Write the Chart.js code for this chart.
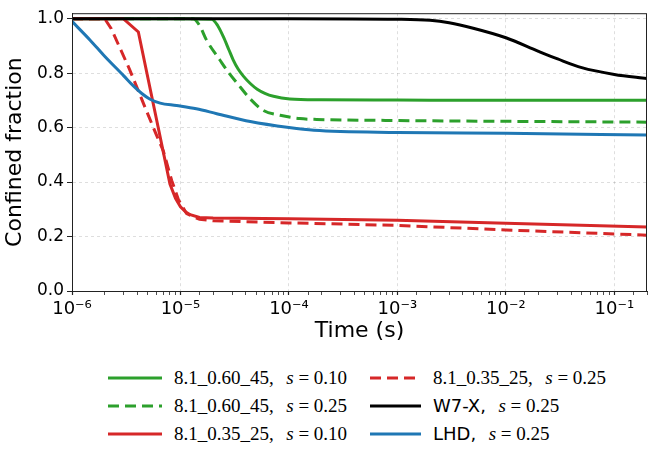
<!DOCTYPE html>
<html>
<head>
<meta charset="utf-8">
<script src="https://cdn.jsdelivr.net/npm/chart.js@4.4.1/dist/chart.umd.min.js"></script>
<style>
  html, body { margin: 0; padding: 0; background: #fff; }
  #wrap { position: relative; width: 654px; height: 450px; }
  #chart { position: absolute; left: 0; top: 0; }
  .item { position: absolute; height: 24px; display: flex; align-items: center; white-space: nowrap; }
  .item svg { flex: none; }
  .lab { font-family: "Liberation Serif", serif; font-size: 19px; color: #000; margin-left: 12px; }
  .sans { font-family: "DejaVu Sans", sans-serif; font-size: 18px; }
  .lab i { font-style: italic; margin-left: 3px; }
</style>
</head>
<body>
<div id="wrap">
  <canvas id="chart" width="654" height="345"></canvas>
  <div id="legend"></div>
</div>
<script>
(function () {
  'use strict'

  // time points (s) and confined fraction for each run
  const greenSolidT = [1e-6, 1e-5, 1.94e-5, 2.2e-5, 2.49e-5, 2.8e-5, 3.06e-5, 3.4e-5, 3.8e-5, 4.4e-5, 5.1e-5, 6e-5, 7.2e-5, 1.02e-4, 2e-4, 1e-3, 1e-2, 0.2];
  const greenSolidY = [1.0, 1.0, 0.998, 0.975, 0.933, 0.885, 0.849, 0.815, 0.789, 0.762, 0.741, 0.726, 0.715, 0.705, 0.702, 0.701, 0.70, 0.70];

  const greenDashT = [1e-6, 1.31e-5, 1.5e-5, 1.74e-5, 2.3e-5, 2.8e-5, 3.3e-5, 4.4e-5, 5.8e-5, 8.3e-5, 1.26e-4, 1.8e-4, 1e-3, 1e-2, 0.2];
  const greenDashY = [1.0, 1.0, 0.975, 0.921, 0.849, 0.8, 0.765, 0.705, 0.663, 0.645, 0.633, 0.63, 0.626, 0.623, 0.62];

  const redSolidT = [1e-6, 2.97e-6, 4.09e-6, 8.0e-6, 9e-6, 1.0e-5, 1.12e-5, 1.23e-5, 1.5e-5, 2e-5, 1e-4, 1e-3, 1e-2, 0.2];
  const redSolidY = [1.0, 1.0, 0.951, 0.393, 0.34, 0.309, 0.29, 0.28, 0.27, 0.268, 0.265, 0.26, 0.249, 0.235];

  const redDashT = [1e-6, 2.0e-6, 2.3e-6, 3.4e-6, 4.9e-6, 6.0e-6, 6.95e-6, 8.3e-6, 9.6e-6, 1.14e-5, 1.5e-5, 2e-5, 1e-4, 1e-3, 1e-2, 0.2];
  const redDashY = [1.0, 1.0, 0.963, 0.813, 0.658, 0.573, 0.514, 0.406, 0.334, 0.284, 0.263, 0.258, 0.25, 0.241, 0.224, 0.205];

  const w7xT = [1e-6, 1e-4, 1e-3, 2e-3, 3e-3, 5e-3, 1e-2, 2e-2, 3e-2, 5e-2, 1e-1, 0.2];
  const w7xY = [1.0, 1.0, 0.998, 0.994, 0.985, 0.965, 0.93, 0.88, 0.852, 0.82, 0.795, 0.78];

  const lhdT = [1e-6, 1.47e-6, 2e-6, 3e-6, 3.68e-6, 4.4e-6, 5.2e-6, 6.5e-6, 9.2e-6, 1.4e-5, 2.16e-5, 4.4e-5, 1e-4, 1.7e-4, 1e-3, 1e-2, 0.2];
  const lhdY = [0.99, 0.921, 0.862, 0.79, 0.753, 0.725, 0.705, 0.69, 0.681, 0.669, 0.651, 0.622, 0.6, 0.59, 0.582, 0.579, 0.573];

  const yTicks = [0, 0.2, 0.4, 0.6, 0.8, 1.0];

  const GREEN = '#2ca02c', RED = '#d62728', BLACK = '#000000', BLUE = '#1f77b4';
  const DASH = [11, 6];

  function pts(t, y) {
    return t.map(function (v, i) { return { x: v, y: y[i] } });
  }

  const series = [
    { label: '8.1_0.60_45, s = 0.10', t: greenSolidT, y: greenSolidY, color: GREEN, dash: [], order: 6, smooth: true, sans: false, name: '8.1_0.60_45,', s: '0.10' },
    { label: '8.1_0.60_45, s = 0.25', t: greenDashT, y: greenDashY, color: GREEN, dash: DASH, order: 5, smooth: true, sans: false, name: '8.1_0.60_45,', s: '0.25' },
    { label: '8.1_0.35_25, s = 0.10', t: redSolidT, y: redSolidY, color: RED, dash: [], order: 4, smooth: false, sans: false, name: '8.1_0.35_25,', s: '0.10' },
    { label: '8.1_0.35_25, s = 0.25', t: redDashT, y: redDashY, color: RED, dash: DASH, order: 3, smooth: false, sans: false, name: '8.1_0.35_25,', s: '0.25' },
    { label: 'W7-X, s = 0.25', t: w7xT, y: w7xY, color: BLACK, dash: [], order: 2, smooth: true, sans: true, name: 'W7-X,', s: '0.25' },
    { label: 'LHD, s = 0.25', t: lhdT, y: lhdY, color: BLUE, dash: [], order: 1, smooth: true, sans: true, name: 'LHD,', s: '0.25' }
  ];

  const SUP = { '-': '\u207B', '0': '\u2070', '1': '\u00B9', '2': '\u00B2', '3': '\u00B3', '4': '\u2074', '5': '\u2075', '6': '\u2076', '7': '\u2077', '8': '\u2078', '9': '\u2079' };
  function isDecade(v) {
    const l = Math.log10(v);
    return Math.abs(l - Math.round(l)) < 1e-6;
  }

  // full box round the plot, like matplotlib spines
  const frame = {
    id: 'frame',
    afterDatasetsDraw(chart) {
      const a = chart.chartArea, c = chart.ctx;
      c.save();
      c.strokeStyle = '#222';
      c.lineWidth = 1;
      c.strokeRect(a.left + 0.5, a.top + 0.5, a.right - a.left - 1, a.bottom - a.top);
      c.restore();
    }
  };

  const ctx = document.getElementById('chart');
  new Chart(ctx, {
    type: 'line',
    data: {
      datasets: series.map(function (s) {
        return {
          label: s.label,
          data: pts(s.t, s.y),
          borderColor: s.color,
          borderDash: s.dash,
          borderWidth: 3,
          pointRadius: 0,
          fill: false,
          cubicInterpolationMode: s.smooth ? 'monotone' : 'default',
          tension: 0,
          order: s.order
        };
      })
    },
    options: {
      responsive: false,
      animation: false,
      layout: { padding: { left: 0, right: 7, top: 7, bottom: 0 } },
      plugins: { legend: { display: false }, tooltip: { enabled: false } },
      scales: {
        x: {
          type: 'logarithmic',
          min: 1e-6,
          max: 0.2,
          afterFit: function (scale) { scale.height = 54; },
          border: { color: '#222', width: 1, dash: [3, 3] },
          grid: {
            color: function (c) { return isDecade(c.tick.value) ? 'rgba(0,0,0,0.13)' : 'rgba(0,0,0,0)'; },
            tickColor: '#222',
            tickWidth: function (c) { return isDecade(c.tick.value) ? 1.2 : 0.8; },
            tickLength: 4,
            drawOnChartArea: true
          },
          ticks: {
            autoSkip: false,
            maxRotation: 0,
            padding: 4,
            color: '#000',
            font: { family: 'DejaVu Sans', size: 18 },
            callback: function (v) {
              if (!isDecade(v)) return '';
              const e = String(Math.round(Math.log10(v)));
              return '10' + e.split('').map(function (ch) { return SUP[ch]; }).join('');
            }
          },
          title: {
            display: true,
            text: 'Time (s)',
            color: '#000',
            font: { family: 'DejaVu Sans', size: 22 },
            padding: { top: 0, bottom: 1 }
          }
        },
        y: {
          min: 0,
          max: 1.02,
          afterFit: function (scale) { scale.width = 72; },
          afterBuildTicks: function (scale) { scale.ticks = yTicks.map(function (v) { return { value: v } }); },
          border: { color: '#222', width: 1, dash: [3, 3] },
          grid: { color: 'rgba(0,0,0,0.13)', tickColor: '#222', tickLength: 5 },
          ticks: {
            padding: 3,
            color: '#000',
            font: { family: 'DejaVu Sans', size: 17 },
            callback: function (v) { return Number(v).toFixed(1); }
          },
          title: {
            display: true,
            text: 'Confined fraction',
            color: '#000',
            font: { family: 'DejaVu Sans', size: 22 },
            padding: { top: 2, bottom: 0 }
          }
        }
      }
    },
    plugins: [frame]
  });

  // legend below, two columns filled top to bottom
  const legend = document.getElementById('legend');
  const spots = [
    { x: 108, y: 378, w: 54 }, { x: 108, y: 406, w: 54 }, { x: 108, y: 434, w: 54 },
    { x: 370, y: 378, w: 51 }, { x: 370, y: 406, w: 51 }, { x: 370, y: 434, w: 51 }
  ];
  series.forEach(function (s, i) {
    const p = spots[i];
    const el = document.createElement('div');
    el.className = 'item';
    el.style.left = p.x + 'px';
    el.style.top = (p.y - 12) + 'px';
    const dash = s.dash.length ? ' stroke-dasharray="' + s.dash.join(',') + '"' : '';
    const nm = s.sans ? '<span class="sans">' + s.name + '</span>' : s.name;
    el.innerHTML = '<svg width="' + p.w + '" height="6"><line x1="0" y1="3" x2="' + p.w + '" y2="3" stroke="' + s.color + '" stroke-width="3"' + dash + '/></svg>' +
      '<span class="lab">' + nm + '&nbsp; <i>s</i> = ' + s.s + '</span>';
    legend.appendChild(el);
  });
})()
</script>
</body>
</html>
